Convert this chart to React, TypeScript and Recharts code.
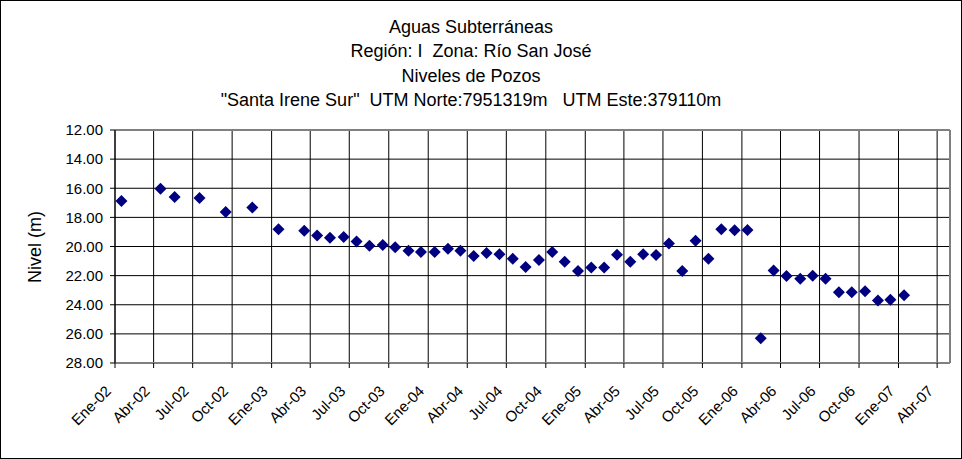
import React from "react";
import {
  CartesianGrid,
  ReferenceLine,
  Scatter,
  ScatterChart,
  XAxis,
  YAxis,
} from "recharts";

const titleLines = [
  "Aguas Subterráneas",
  "Región: I  Zona: Río San José",
  "Niveles de Pozos",
  '"Santa Irene Sur"  UTM Norte:7951319m   UTM Este:379110m',
];

const monthNames = ["Ene", "Feb", "Mar", "Abr", "May", "Jun", "Jul", "Ago", "Sep", "Oct", "Nov", "Dic"];

const fechas = [
  "2002-01-16", "2002-04-17", "2002-05-20", "2002-07-17", "2002-09-16", "2002-11-17",
  "2003-01-17", "2003-03-18", "2003-04-17", "2003-05-17", "2003-06-18", "2003-07-18",
  "2003-08-17", "2003-09-17", "2003-10-16", "2003-11-16", "2003-12-15",
  "2004-01-16", "2004-02-16", "2004-03-16", "2004-04-16", "2004-05-16", "2004-06-15",
  "2004-07-16", "2004-08-15", "2004-09-15", "2004-10-16", "2004-11-14", "2004-12-15",
  "2005-01-15", "2005-02-14", "2005-03-16", "2005-04-16", "2005-05-16", "2005-06-15",
  "2005-07-15", "2005-08-15", "2005-09-15", "2005-10-15", "2005-11-14", "2005-12-15",
  "2006-01-14", "2006-02-14", "2006-03-16", "2006-04-15", "2006-05-17", "2006-06-15",
  "2006-07-15", "2006-08-15", "2006-09-14", "2006-10-15", "2006-11-14", "2006-12-13",
  "2007-01-14",
];

const niveles = [
  16.88, 16.03, 16.6, 16.67, 17.63, 17.33,
  18.82, 18.92, 19.24, 19.4, 19.35, 19.65,
  19.95, 19.9, 20.06, 20.29, 20.38,
  20.38, 20.15, 20.29, 20.65, 20.45, 20.54,
  20.84, 21.41, 20.93, 20.38, 21.04, 21.68,
  21.45, 21.45, 20.56, 21.04, 20.54, 20.59,
  19.79, 21.68, 19.6, 20.84, 18.82, 18.89,
  18.87, 26.3, 21.64, 22.03, 22.21, 22.0,
  22.21, 23.15, 23.15, 23.08, 23.7, 23.65,
  23.35,
];

const xTickDates = [
  "2002-01-01", "2002-04-01", "2002-07-01", "2002-10-01",
  "2003-01-01", "2003-04-01", "2003-07-01", "2003-10-01",
  "2004-01-01", "2004-04-01", "2004-07-01", "2004-10-01",
  "2005-01-01", "2005-04-01", "2005-07-01", "2005-10-01",
  "2006-01-01", "2006-04-01", "2006-07-01", "2006-10-01",
  "2007-01-01", "2007-04-01",
];

const yTicks = [12, 14, 16, 18, 20, 22, 24, 26, 28];

const X_MIN = Date.parse("2002-01-01");
const X_MAX = Date.parse("2007-05-01");

const data = fechas.map((f, i) => ({ t: Date.parse(f), nivel: niveles[i] }));
const xTicks = xTickDates.map((d) => Date.parse(d));

const FONT = "'Liberation Sans', Arial, sans-serif";

function fmtDate(t: number) {
  const d = new Date(t);
  return `${monthNames[d.getUTCMonth()]}-${String(d.getUTCFullYear()).slice(2)}`;
}

function Diamond({ cx, cy }: { cx?: number; cy?: number }) {
  if (cx === undefined || cy === undefined) return null;
  const r = 6;
  return (
    <polygon
      points={`${cx},${cy - r} ${cx + r},${cy} ${cx},${cy + r} ${cx - r},${cy}`}
      fill="#000080"
    />
  );
}

function DateTick({ x, y, payload }: { x?: number; y?: number; payload?: { value: number } }) {
  if (x === undefined || y === undefined || !payload) return null;
  return (
    <text
      transform={`translate(${x - 3}, ${y + 24}) rotate(-45)`}
      textAnchor="end"
      fontSize={15}
      fontFamily={FONT}
      fill="#000"
    >
      {fmtDate(payload.value)}
    </text>
  );
}

export default function App() {
  return (
    <div
      style={{
        position: "absolute",
        left: 0,
        top: 0,
        width: 962,
        height: 459,
        background: "#fff",
        fontFamily: FONT,
      }}
    >
      <ScatterChart
        width={962}
        height={459}
        margin={{ top: 130, right: 12, left: 0, bottom: 0 }}
      >
        <CartesianGrid stroke="#000" strokeWidth={1} />
        <XAxis
          type="number"
          dataKey="t"
          domain={[X_MIN, X_MAX]}
          ticks={xTicks}
          interval={0}
          height={96}
          tickSize={5}
          tickMargin={0}
          tick={<DateTick />}
          axisLine={{ stroke: "#808080", strokeWidth: 2 }}
          tickLine={{ stroke: "#000" }}
        />
        <YAxis
          type="number"
          dataKey="nivel"
          domain={[12, 28]}
          ticks={yTicks}
          reversed
          width={115}
          interval={0}
          tickSize={5}
          tickMargin={7}
          tickFormatter={(v) => Number(v).toFixed(2)}
          tick={{ fontSize: 15, fill: "#000", fontFamily: FONT }}
          axisLine={{ stroke: "#000" }}
          tickLine={{ stroke: "#000" }}
        />
        <ReferenceLine y={12} stroke="#808080" strokeWidth={2} />
        <ReferenceLine x={X_MAX} stroke="#808080" strokeWidth={2} />
        <Scatter data={data} shape={<Diamond />} isAnimationActive={false} />
      </ScatterChart>
      <svg
        width={962}
        height={459}
        style={{ position: "absolute", left: 0, top: 0, pointerEvents: "none" }}
      >
        <rect x={0.5} y={0.5} width={961} height={458} fill="none" stroke="#000" />
        {titleLines.map((line, i) => (
          <text
            key={i}
            x={471}
            y={33 + i * 24.3}
            textAnchor="middle"
            fontSize={18}
            fontFamily={FONT}
            fill="#000"
            style={{ whiteSpace: "pre" }}
          >
            {line}
          </text>
        ))}
        <text
          transform="translate(41, 247) rotate(-90)"
          textAnchor="middle"
          fontSize={18}
          fontFamily={FONT}
          fill="#000"
        >
          Nivel (m)
        </text>
      </svg>
    </div>
  );
}
